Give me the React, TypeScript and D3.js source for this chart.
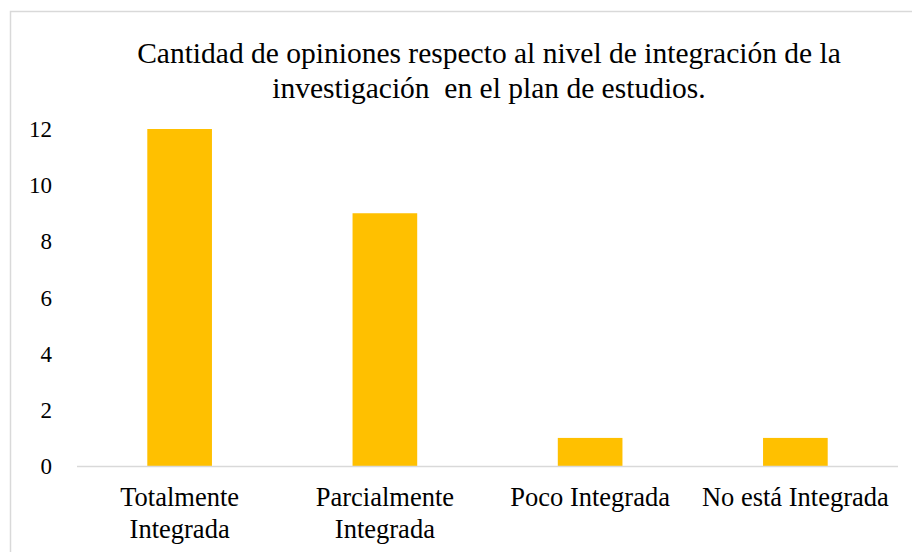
import React from 'react';
import * as d3 from 'd3';

const categories: string[][] = [
    ['Totalmente', 'Integrada'],
    ['Parcialmente', 'Integrada'],
    ['Poco Integrada'],
    ['No está Integrada'],
];
const counts: number[] = [12, 9, 1, 1];
const yTicks: number[] = [0, 2, 4, 6, 8, 10, 12];
const titleLines: string[] = [
    'Cantidad de opiniones respecto al nivel de integración de la',
    'investigación  en el plan de estudios.',
];

const W = 912;
const H = 552;
const FONT = "'Liberation Serif'";

const App: React.FC = () => {
    const keys = categories.map((c) => c.join(' '));

    const x = d3.scaleBand<string>()
        .domain(keys)
        .range([77, 898])
        .paddingInner(0.685)
        .paddingOuter(0.3425);

    const y = d3.scaleLinear()
        .domain([0, 12])
        .range([466, 129]);

    return (
        <svg width={W} height={H} style={{ display: 'block', position: 'absolute', left: 0, top: 0 }}>
            <rect x={0} y={0} width={W} height={H} fill="#ffffff" />
            <rect x={10.5} y={11.5} width={W + 20} height={H + 20} fill="none" stroke="#d9d9d9" strokeWidth={1.5} />

            {titleLines.map((t, i) => (
                <text key={i} x={489} y={63 + i * 35} textAnchor="middle" fontSize={29.5}
                    fill="#000" style={{ whiteSpace: 'pre', fontFamily: FONT }}>
                    {t}
                </text>
            ))}

            {yTicks.map((t) => (
                <text key={t} x={52} y={y(t)} dy="0.35em" textAnchor="end" fontSize={23} fill="#000" style={{ fontFamily: FONT }}>
                    {t}
                </text>
            ))}

            {counts.map((v, i) => (
                <rect key={keys[i]} x={x(keys[i])} y={y(v)} width={x.bandwidth()} height={y(0) - y(v)} fill="#ffc000" />
            ))}

            <line x1={77} x2={898} y1={y(0) + 0.5} y2={y(0) + 0.5} stroke="#d9d9d9" strokeWidth={1.5} />

            {categories.map((lines, i) => {
                const cx = (x(keys[i]) ?? 0) + x.bandwidth() / 2;
                return lines.map((l, j) => (
                    <text key={`${i}-${j}`} x={cx} y={506 + j * 32} textAnchor="middle" fontSize={26.5} fill="#000" style={{ fontFamily: FONT }}>
                        {l}
                    </text>
                ));
            })}
        </svg>
    );
};

export default App;
